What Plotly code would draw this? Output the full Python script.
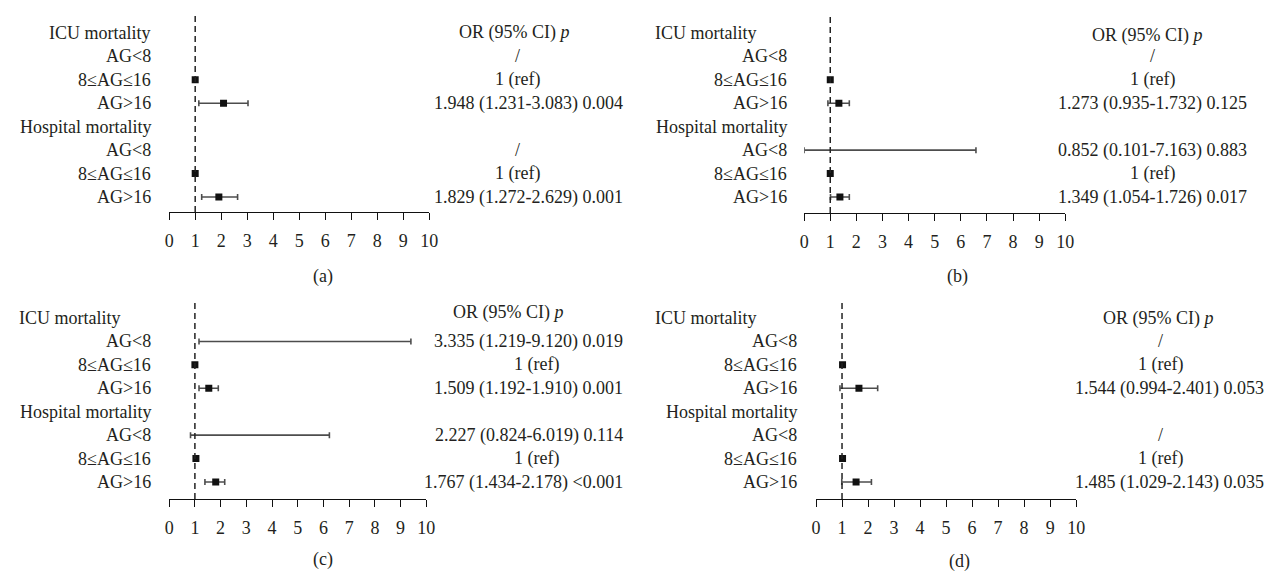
import html
import plotly.graph_objects as go

W, H = 1278, 571

# ---------------- data ----------------
row_labels = ["ICU mortality", "AG<8", "8≤AG≤16", "AG>16",
              "Hospital mortality", "AG<8", "8≤AG≤16", "AG>16"]
x_ticks = [0, 1, 2, 3, 4, 5, 6, 7, 8, 9, 10]
ref_or = 1
panel_names = ["(a)", "(b)", "(c)", "(d)"]
header_text = "OR (95% CI)"
header_p = "p"

# point estimates drawn as squares (None = no square)
a_or = [None, None, 1.00, 2.09, None, None, 1.00, 1.91]
a_lo = [None, None, None, 1.14, None, None, None, 1.25]
a_hi = [None, None, None, 3.03, None, None, None, 2.63]
a_txt = ["", "/", "1 (ref)", "1.948 (1.231-3.083) 0.004",
         "", "/", "1 (ref)", "1.829 (1.272-2.629) 0.001"]

b_or = [None, None, 1.00, 1.33, None, None, 1.00, 1.37]
b_lo = [None, None, None, 0.91, None, 0.00, None, 1.01]
b_hi = [None, None, None, 1.73, None, 6.58, None, 1.73]
b_txt = ["", "/", "1 (ref)", "1.273 (0.935-1.732) 0.125",
         "", "0.852 (0.101-7.163) 0.883", "1 (ref)", "1.349 (1.054-1.726) 0.017"]

c_or = [None, None, 1.00, 1.54, None, None, 1.04, 1.81]
c_lo = [None, 1.16, None, 1.16, None, 0.83, None, 1.39]
c_hi = [None, 9.40, None, 1.91, None, 6.23, None, 2.16]
c_txt = ["", "3.335 (1.219-9.120) 0.019", "1 (ref)", "1.509 (1.192-1.910) 0.001",
         "", "2.227 (0.824-6.019) 0.114", "1 (ref)", "1.767 (1.434-2.178) <0.001"]

d_or = [None, None, 1.02, 1.65, None, None, 1.02, 1.54]
d_lo = [None, None, None, 0.92, None, None, None, 0.99]
d_hi = [None, None, None, 2.37, None, None, None, 2.13]
d_txt = ["", "/", "1 (ref)", "1.544 (0.994-2.401) 0.053",
         "", "/", "1 (ref)", "1.485 (1.029-2.143) 0.035"]

panels_data = [(a_or, a_lo, a_hi, a_txt), (b_or, b_lo, b_hi, b_txt),
               (c_or, c_lo, c_hi, c_txt), (d_or, d_lo, d_hi, d_txt)]

# ---------------- layout geometry (pixels) ----------------
geom = [
    dict(x0=166, x10=429, top=13, axis=212, row0=33, lab_r=150, icu="right", icu_x=150,
         mid=518, head=515, right=627, head_shift=0, plx=322, ply=276),
    dict(x0=808, x10=1072, top=13, axis=213, row0=33, lab_r=793, icu="left", icu_x=655,
         mid=1160, head=1155, right=1258, head_shift=-3, plx=963, ply=276),
    dict(x0=166, x10=426, top=303, axis=499, row0=318, lab_r=150, icu="left", icu_x=12,
         mid=537, head=509, right=627, head_shift=6, plx=322, ply=559),
    dict(x0=820, x10=1083, top=303, axis=499, row0=318, lab_r=803, icu="left", icu_x=655,
         mid=1168, head=1166, right=1275, head_shift=0, plx=965, ply=561),
]
SP = 23.43
FONT = "Liberation Serif"
FS = 18
TXT_COL = "#231f20"

fig = go.Figure()
annotations = []
shapes = []
layout_axes = {}

for k, ((orv, lo, hi, txt), g) in enumerate(zip(panels_data, geom), start=1):
    xa = "x" if k == 1 else f"x{k}"
    ya = "y" if k == 1 else f"y{k}"
    ys = [-i for i in range(len(row_labels))]

    # confidence intervals
    ci_x, ci_y, ci_len = [], [], []
    for i in range(len(row_labels)):
        if lo[i] is not None and hi[i] is not None:
            ci_x.append(lo[i]); ci_y.append(ys[i]); ci_len.append(hi[i] - lo[i])
    if ci_x:
        fig.add_trace(go.Scatter(
            x=ci_x, y=ci_y, mode="markers", xaxis=xa, yaxis=ya, showlegend=False,
            hoverinfo="skip",
            marker=dict(size=1, color="rgba(0,0,0,0)"),
            error_x=dict(type="data", symmetric=False, array=ci_len,
                         arrayminus=[0] * len(ci_x), color="#4d4d4d",
                         thickness=1.6, width=3)))
    # point estimates
    px_, py_ = [], []
    for i in range(len(row_labels)):
        if orv[i] is not None:
            px_.append(orv[i]); py_.append(ys[i])
    fig.add_trace(go.Scatter(
        x=px_, y=py_, mode="markers", xaxis=xa, yaxis=ya, showlegend=False,
        marker=dict(symbol="square", size=7, color="#111111", line=dict(width=0))))

    # axes
    ybot = -(g["axis"] - g["row0"]) / SP
    ytop = (g["row0"] - g["top"]) / SP
    layout_axes["xaxis" if k == 1 else f"xaxis{k}"] = dict(
        domain=[g["x0"] / W, g["x10"] / W], range=[0, 10], anchor=ya,
        showline=True, linecolor="#111", linewidth=1.3,
        ticks="outside", ticklen=7, tickwidth=1.3, tickcolor="#111",
        tickvals=x_ticks, ticktext=[str(t) for t in x_ticks],
        tickfont=dict(family=FONT, size=FS, color=TXT_COL),
        ticklabelstandoff=5,
        showgrid=False, zeroline=False, fixedrange=True)
    layout_axes["yaxis" if k == 1 else f"yaxis{k}"] = dict(
        domain=[1 - g["axis"] / H, 1 - g["top"] / H], range=[ybot, ytop], anchor=xa,
        visible=False, showgrid=False, zeroline=False, fixedrange=True)

    # reference line at OR = 1
    shapes.append(dict(type="line", xref=xa, yref=f"{ya} domain", x0=ref_or, x1=ref_or,
                       y0=0, y1=1, line=dict(color="#222", width=1.5, dash="6px,4px")))

    # left labels
    for i, lab in enumerate(row_labels):
        is_icu = (i == 0)
        if is_icu and g["icu"] == "left":
            xpos, xanch = g["icu_x"], "left"
        else:
            xpos, xanch = g["lab_r"], "right"
        annotations.append(dict(
            text=html.escape(lab), x=xpos / W, xref="paper", y=ys[i], yref=ya,
            xanchor=xanch, yanchor="middle", showarrow=False,
            font=dict(family=FONT, size=FS, color=TXT_COL)))

    # header
    annotations.append(dict(
        text=f"{header_text} <i>{header_p}</i>", x=g["head"] / W, xref="paper",
        y=ys[0], yref=ya, yshift=g["head_shift"], xanchor="center", yanchor="middle",
        showarrow=False, font=dict(family=FONT, size=FS, color=TXT_COL)))
    # right-hand text column
    for i, t in enumerate(txt):
        if not t:
            continue
        if t in ("/", "1 (ref)"):
            xpos, xanch = g["mid"], "center"
        else:
            xpos, xanch = g["right"], "right"
        annotations.append(dict(
            text=html.escape(t), x=xpos / W, xref="paper", y=ys[i], yref=ya,
            xanchor=xanch, yanchor="middle", showarrow=False,
            font=dict(family=FONT, size=FS, color=TXT_COL)))

    # panel label
    annotations.append(dict(
        text=panel_names[k - 1], x=g["plx"] / W, xref="paper", y=1 - g["ply"] / H,
        yref="paper", xanchor="center", yanchor="middle", showarrow=False,
        font=dict(family=FONT, size=FS, color=TXT_COL)))

fig.update_layout(
    width=W, height=H, margin=dict(l=0, r=0, t=0, b=0),
    paper_bgcolor="white", plot_bgcolor="white",
    annotations=annotations, shapes=shapes, showlegend=False,
    **layout_axes)

fig.write_html("out.html", config={"displayModeBar": False},
               post_script="document.body.style.margin='0';document.body.style.overflow='hidden';")
